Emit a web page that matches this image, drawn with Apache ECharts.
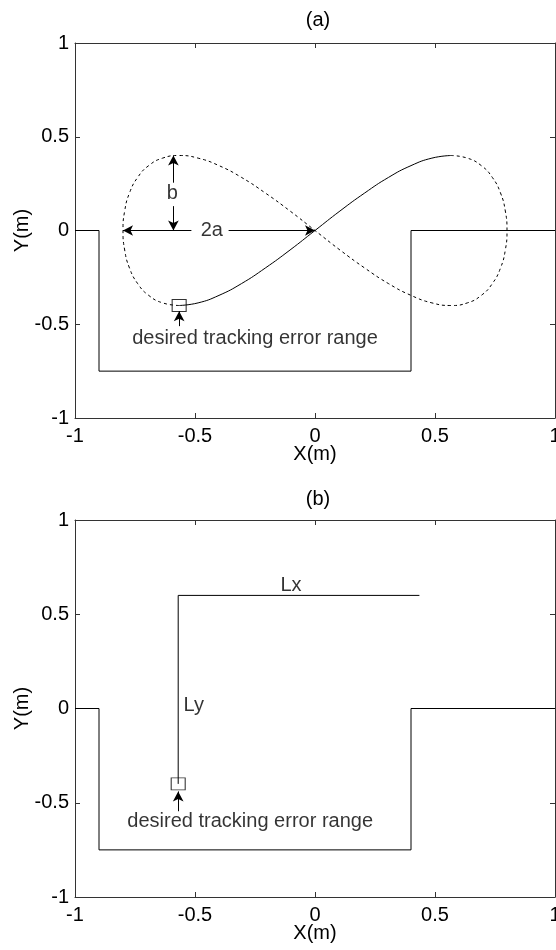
<!DOCTYPE html>
<html>
<head>
<meta charset="utf-8">
<script src="https://cdn.jsdelivr.net/npm/echarts@6.0.0/dist/echarts.min.js"></script>
<style>
  html, body { margin: 0; background: #fff; }
  #chart { width: 556px; height: 950px; }
</style>
</head>
<body>
<div id="chart"></div>
<script>
const FONT = '"Liberation Sans", Arial, sans-serif'

// track boundary (same in both panels)
const trackPath = [[-1, 0], [-0.9, 0], [-0.9, -0.75], [0.4, -0.75], [0.4, 0], [1, 0]]

// (a) figure-eight, travelled part (solid) and remaining part (dashed)
const eightSolid = [
  [-0.566, -0.4], [-0.487, -0.386], [-0.4, -0.346], [-0.306, -0.283], [-0.207, -0.2],
  [-0.104, -0.104], [0, 0], [0.104, 0.104], [0.207, 0.2], [0.306, 0.283],
  [0.4, 0.346], [0.487, 0.386], [0.566, 0.4]
]
const eightDashed = [
  [0.566, 0.4], [0.635, 0.386], [0.693, 0.346], [0.739, 0.283], [0.773, 0.2],
  [0.793, 0.104], [0.8, 0], [0.793, -0.104], [0.773, -0.2], [0.739, -0.283],
  [0.693, -0.346], [0.635, -0.386], [0.566, -0.4], [0.487, -0.386], [0.4, -0.346],
  [0.306, -0.283], [0.207, -0.2], [0.104, -0.104], [0, 0], [-0.104, 0.104],
  [-0.207, 0.2], [-0.306, 0.283], [-0.4, 0.346], [-0.487, 0.386], [-0.566, 0.4],
  [-0.635, 0.386], [-0.693, 0.346], [-0.739, 0.283], [-0.773, 0.2], [-0.793, 0.104],
  [-0.8, 0], [-0.793, -0.104], [-0.773, -0.2], [-0.739, -0.283], [-0.693, -0.346],
  [-0.635, -0.386], [-0.566, -0.4]
]
const startA = [[-0.566, -0.4]]
const arrowsA = [
  [[-0.59, 0.255], [-0.59, 0.4]],
  [[-0.59, 0.13], [-0.59, 0]],
  [[-0.515, 0], [-0.8, 0]],
  [[-0.36, 0], [0, 0]],
  [[-0.566, -0.51], [-0.566, -0.43]]
]
const labelsA = [
  ['b', -0.595, 0.195],
  ['2a', -0.43, 0],
  ['desired tracking error range', -0.25, -0.575]
]

// (b) L-shaped path
const lPath = [[-0.57, -0.4], [-0.57, 0.6], [0.435, 0.6]]
const startB = [[-0.57, -0.4]]
const arrowsB = [
  [[-0.57, -0.545], [-0.57, -0.44]]
]
const labelsB = [
  ['Lx', -0.1, 0.655],
  ['Ly', -0.505, 0.015],
  ['desired tracking error range', -0.27, -0.6]
]

const axisColor = '#333'
const txt = { color: '#000', fontSize: 20, fontFamily: FONT }

function xAxes(grid) {
  const base = {
    gridIndex: grid, type: 'value', min: -1, max: 1, interval: 0.5,
    axisLine: { onZero: false, lineStyle: { color: axisColor, width: 1 } },
    axisTick: { inside: true, length: 5, lineStyle: { color: axisColor } },
    splitLine: { show: false }
  }
  return [
    { ...base, position: 'bottom', name: 'X(m)', nameLocation: 'middle', nameGap: 26,
      nameMoveOverlap: false, nameTextStyle: txt, axisLabel: { ...txt, margin: 8 } },
    { ...base, position: 'top', axisLabel: { show: false } }
  ]
}

function yAxes(grid) {
  const base = {
    gridIndex: grid, type: 'value', min: -1, max: 1, interval: 0.5,
    axisLine: { onZero: false, lineStyle: { color: axisColor, width: 1 } },
    axisTick: { inside: true, length: 5, lineStyle: { color: axisColor } },
    splitLine: { show: false }
  }
  return [
    { ...base, position: 'left', name: 'Y(m)', nameLocation: 'middle', nameGap: 43,
      nameMoveOverlap: false, nameTextStyle: txt, axisLabel: { ...txt, margin: 6 } },
    { ...base, position: 'right', axisLabel: { show: false } }
  ]
}

function line(ax, data, dashed) {
  return {
    type: 'line', xAxisIndex: ax, yAxisIndex: ax, data, symbol: 'none',
    smooth: dashed !== undefined ? 0.5 : false, silent: true,
    lineStyle: { color: '#000', width: 1, type: dashed ? [3, 3] : 'solid' }
  }
}

function marker(ax, pos, arrows) {
  return {
    type: 'scatter', xAxisIndex: ax, yAxisIndex: ax, data: pos, silent: true,
    symbol: 'rect', symbolSize: [14, 12], z: 1,
    itemStyle: { color: 'rgba(0,0,0,0)', borderColor: '#000', borderWidth: 1 },
    markLine: {
      silent: true, animation: false,
      symbol: ['none', 'arrow'], symbolSize: [8, 10],
      label: { show: false },
      lineStyle: { color: '#000', width: 1, type: 'solid' },
      data: arrows.map(a => [{ coord: a[0] }, { coord: a[1] }])
    }
  }
}

function texts(ax, labels) {
  return {
    type: 'scatter', xAxisIndex: ax, yAxisIndex: ax, silent: true,
    symbolSize: 1, itemStyle: { color: 'rgba(0,0,0,0)' },
    data: labels.map(l => ({ name: l[0], value: [l[1], l[2]] })),
    label: { show: true, position: 'inside', formatter: p => p.name, ...txt }
  }
}

const chart = echarts.init(document.getElementById('chart'))
chart.setOption({
  backgroundColor: '#fff',
  animation: false,
  title: [
    { text: '(a)', left: 313, top: 5, textAlign: 'center', textStyle: { ...txt, fontWeight: 'normal' } },
    { text: '(b)', left: 313, top: 484, textAlign: 'center', textStyle: { ...txt, fontWeight: 'normal' } }
  ],
  grid: [
    { left: 75, top: 43, width: 480, height: 375, outerBoundsMode: 'none', containLabel: false },
    { left: 75, top: 520, width: 480, height: 377, outerBoundsMode: 'none', containLabel: false }
  ],
  xAxis: [...xAxes(0), ...xAxes(1)],
  yAxis: [...yAxes(0), ...yAxes(1)],
  series: [
    // panel (a): axes 0 (bottom/left)
    line(0, trackPath),
    line(0, eightSolid, false),
    line(0, eightDashed, true),
    marker(0, startA, arrowsA),
    texts(0, labelsA),
    // panel (b): axes 2
    line(2, trackPath),
    line(2, lPath),
    marker(2, startB, arrowsB),
    texts(2, labelsB)
  ]
})
</script>
</body>
</html>
